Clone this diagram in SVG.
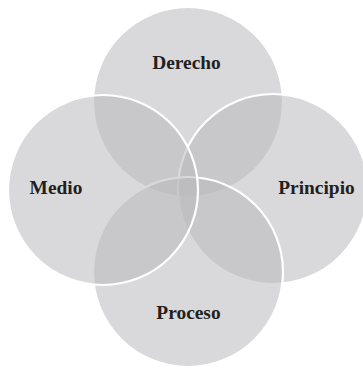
<svg xmlns="http://www.w3.org/2000/svg" width="363" height="369" viewBox="0 0 363 369">
  <style>
    .petal { fill: #b9babd; fill-opacity: 0.55; stroke: #ffffff; stroke-width: 2.2; }
    .label { font-family: "Liberation Serif", "Times New Roman", serif; font-weight: bold; font-size: 19.4px; fill: #231f20; text-anchor: middle; }
  </style>
  <rect width="363" height="369" fill="#ffffff"/>
  <!-- circles drawn clockwise from the top so later fills sit over earlier outlines -->
  <g id="derecho">
    <circle class="petal" cx="188" cy="102" r="95"/>
    <text class="label" x="186.5" y="68.5">Derecho</text>
  </g>
  <g id="principio">
    <circle class="petal" cx="273" cy="189" r="95"/>
    <text class="label" x="316.5" y="194">Principio</text>
  </g>
  <g id="proceso">
    <circle class="petal" cx="188" cy="272" r="95"/>
    <text class="label" x="188.5" y="319">Proceso</text>
  </g>
  <g id="medio">
    <circle class="petal" cx="103" cy="190" r="95"/>
    <text class="label" x="56" y="194">Medio</text>
  </g>
  <g id="connectors"/>
</svg>
